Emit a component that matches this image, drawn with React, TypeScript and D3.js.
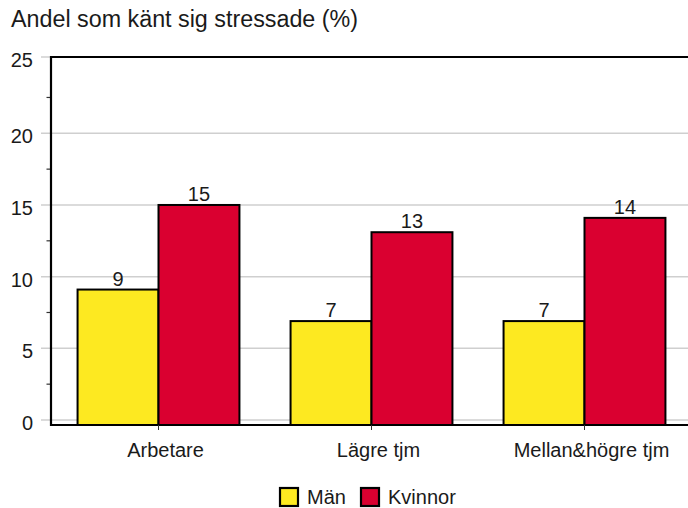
import React from "react";
import { scaleBand, scaleLinear, range } from "d3";

const title = "Andel som känt sig stressade (%)";
const categories = ["Arbetare", "Lägre tjm", "Mellan&högre tjm"];
const seriesNames = ["Män", "Kvinnor"];
const manValues = [9.1, 6.9, 6.9];
const kvinnorValues = [15.0, 13.1, 14.1];
const yTicks = [0, 5, 10, 15, 20, 25];
const yMax = 25;

const colors = ["#fde921", "#da0030"];
const font = "'Liberation Sans', Arial, sans-serif";

const W = 688;
const H = 508;
const left = 51;
const plotTop = 57;
const zeroY = 420;
const baseY = 425;

export default function App() {
  const series = [manValues, kvinnorValues];

  const x = scaleBand<string>()
    .domain(categories)
    .range([52, 691])
    .paddingInner(0.24)
    .paddingOuter(0.12);

  const xInner = scaleBand<string>()
    .domain(seriesNames)
    .range([0, x.bandwidth()]);

  // 0 -> 420, 20 -> 133.3 in the reference
  const y = scaleLinear().domain([0, yMax]).range([zeroY, zeroY - (yMax * 286.7) / 20]);

  const minorTicks = range(2.5, yMax, 5);
  const tickY = (t: number) => (t === yMax ? plotTop : y(t));

  return (
    <svg
      width={W}
      height={H}
      style={{ position: "absolute", left: 0, top: 0, background: "#fff" }}
      fontFamily={font}
    >
      <text x={11} y={27} fontSize={23.3} fill="#1a1a1a">
        {title}
      </text>

      {/* gridlines + major ticks */}
      <g className="grid">
        {yTicks.map((t) => (
          <line
            key={t}
            x1={41}
            x2={W}
            y1={tickY(t)}
            y2={tickY(t)}
            stroke="#cfcfcf"
            strokeWidth={1.5}
          />
        ))}
        {minorTicks.map((t) => (
          <line key={t} x1={46.5} x2={left} y1={y(t)} y2={y(t)} stroke="#333" strokeWidth={1.2} />
        ))}
      </g>

      <g className="y-labels">
        {yTicks.map((t) => (
          <text
            key={t}
            x={33}
            y={tickY(t) + 10}
            textAnchor="end"
            fontSize={20}
            fill="#1a1a1a"
          >
            {t}
          </text>
        ))}
      </g>

      {/* bars */}
      <g className="bars">
        {categories.map((c, i) => (
          <g key={c} transform={`translate(${x(c)},0)`}>
            {seriesNames.map((s, j) => {
              const v = series[j][i];
              const bx = xInner(s) as number;
              return (
                <g key={s}>
                  <rect
                    x={bx}
                    y={y(v)}
                    width={xInner.bandwidth()}
                    height={baseY - y(v)}
                    fill={colors[j]}
                    stroke="#000"
                    strokeWidth={2}
                  />
                  <text
                    x={bx + xInner.bandwidth() / 2}
                    y={y(v) - 4}
                    textAnchor="middle"
                    fontSize={20}
                    fill="#1a1a1a"
                  >
                    {Math.round(v)}
                  </text>
                </g>
              );
            })}
          </g>
        ))}
      </g>

      {/* frame */}
      <line x1={left} x2={W} y1={plotTop} y2={plotTop} stroke="#000" strokeWidth={2.2} />
      <line x1={left} x2={left} y1={plotTop - 1} y2={baseY + 1} stroke="#000" strokeWidth={2.2} />
      <line x1={left} x2={W} y1={baseY} y2={baseY} stroke="#000" strokeWidth={2.2} />

      {/* x ticks + labels */}
      <g className="x-axis">
        {categories.map((c) => {
          const cx = (x(c) as number) + x.bandwidth() / 2;
          return (
            <g key={c}>
              <line x1={cx} x2={cx} y1={baseY} y2={baseY + 5} stroke="#333" strokeWidth={1} />
              <text x={cx + 7} y={457} textAnchor="middle" fontSize={20} fill="#1a1a1a">
                {c}
              </text>
            </g>
          );
        })}
      </g>

      {/* legend */}
      <g className="legend">
        {seriesNames.map((s, j) => {
          const lx = j === 0 ? 280 : 361;
          return (
            <g key={s}>
              <rect x={lx} y={488} width={18} height={18} fill={colors[j]} stroke="#000" strokeWidth={2.2} />
              <text x={lx + 27} y={504} fontSize={20} fill="#1a1a1a">
                {s}
              </text>
            </g>
          );
        })}
      </g>
    </svg>
  );
}
